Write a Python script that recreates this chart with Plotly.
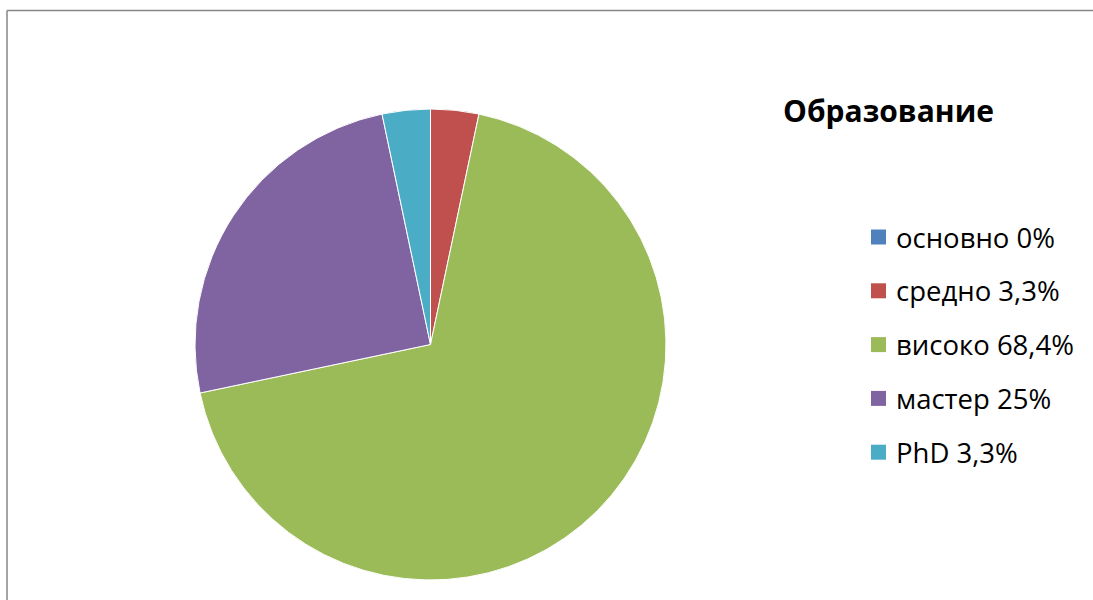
import plotly.graph_objects as go

# Education breakdown
categories = ["основно", "средно", "високо", "мастер", "PhD"]
shares = [0.0, 3.3, 68.4, 25.0, 3.3]
share_labels = ["0%", "3,3%", "68,4%", "25%", "3,3%"]
colors = ["#4F81BD", "#C0504D", "#9BBB59", "#8064A2", "#4BACC6"]
title_text = "Образование"

W, H = 1093, 600
FONT = "Open Sans"

fig = go.Figure()
fig.add_trace(go.Pie(
    labels=categories,
    values=shares,
    sort=False,
    direction="clockwise",
    rotation=0,
    marker=dict(colors=colors, line=dict(color="white", width=1)),
    textinfo="none",
    hoverinfo="label+percent",
    showlegend=False,
    domain=dict(x=[195 / W, 666 / W], y=[1 - 580 / H, 1 - 109 / H]),
))

shapes = [
    # chart-area frame (left and top edges)
    dict(type="line", xref="paper", yref="paper", x0=7 / W, x1=7 / W, y0=-0.05, y1=1 - 10.5 / H,
         line=dict(color="#878787", width=1.5)),
    dict(type="line", xref="paper", yref="paper", x0=7 / W, x1=1.05, y0=1 - 10.5 / H, y1=1 - 10.5 / H,
         line=dict(color="#878787", width=1.5)),
]
annotations = [
    dict(text=f"<b>{title_text}</b>", xref="paper", yref="paper", x=888 / W, y=1 - 110 / H,
         xanchor="center", yanchor="middle", showarrow=False,
         font=dict(family=FONT, size=30, color="black")),
]

# legend drawn as swatches + labels
row0, step = 237, 53.8
sq = 15
for i, (cat, lab, col) in enumerate(zip(categories, share_labels, colors)):
    cy = row0 + i * step
    shapes.append(dict(type="rect", xref="paper", yref="paper",
                       x0=871 / W, x1=(871 + sq) / W,
                       y0=1 - (cy + sq / 2) / H, y1=1 - (cy - sq / 2) / H,
                       fillcolor=col, line=dict(width=0)))
    annotations.append(dict(text=f"{cat} {lab}", xref="paper", yref="paper",
                            x=894 / W, y=1 - cy / H, xanchor="left", yanchor="middle",
                            showarrow=False, font=dict(family=FONT, size=27.5, color="black")))

fig.update_layout(
    width=W, height=H,
    margin=dict(l=0, r=0, t=0, b=0),
    paper_bgcolor="white", plot_bgcolor="white",
    shapes=shapes, annotations=annotations,
)

fig.write_html("out.html")
